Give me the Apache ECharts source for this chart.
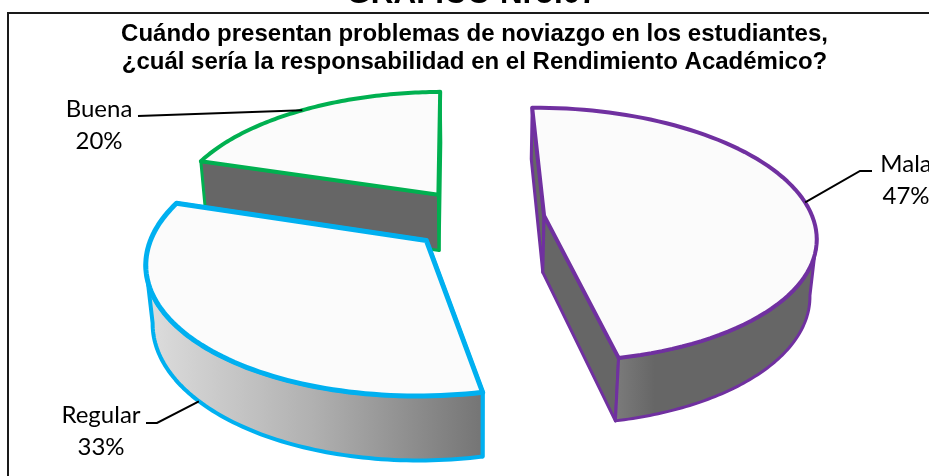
<!DOCTYPE html>
<html style="height: 100%">
<head>
    <meta charset="utf-8">
    <script src="https://cdn.jsdelivr.net/npm/echarts@6/dist/echarts.min.js"></script>
</head>
<body style="height: 100%; margin: 0; background: #fff">
<div id="container" style="width: 929px; height: 476px"></div>
<script type="text/javascript">
    var categories = ['Mala', 'Regular', 'Buena'];
    var percents = [47, 33, 20];
    var drawOrder = [2, 0, 1];
    var heading = 'GRÁFICO Nro.07';
    var chartTitle = 'Cuándo presentan problemas de noviazgo en los estudiantes,\n¿cuál sería la responsabilidad en el Rendimiento Académico?';

    // look of the 3d pie
    var cx = 477.5, cy = 219, rx = 269, ry = 125, depth = 58;
    var tilt = 0.15, sink = 0.02, explode = 0.25, firstAngle = -0.8;
    var sliceStyle = [
        {line: '#7030A0', width: 4, wall: [[0, '#7c7c7c'], [0.2, '#666666'], [1, '#666666']], side: '#666666',
            labelX: 906, labelY: 180, leader: [[872, 171], [860, 171]]},
        {line: '#00B0F0', width: 5, wall: [[0, '#dedede'], [0.5, '#b0b0b0'], [1, '#747474']], side: '#666666',
            labelX: 101, labelY: 431, leader: [[146, 423], [157, 423]]},
        {line: '#00B050', width: 4, wall: [[0, '#666666'], [1, '#666666']], side: '#666666',
            labelX: 99, labelY: 125, leader: [[138, 116]]}
    ];

    function rad(d) { return d * Math.PI / 180; }

    // angles are clockwise from the back of the pie
    var slices = [];
    var total = percents.reduce(function (a, b) { return a + b; }, 0);
    var acc = firstAngle;
    percents.forEach(function (p) {
        var span = p / total * 360;
        slices.push({start: acc, end: acc + span, mid: acc + span / 2});
        acc += span;
    });

    function project(u, v, z) {
        var w = 1 - tilt * v + sink * z;
        return [cx + rx * u / w, cy + (ry * v + depth * z) / w];
    }
    function apex(s) {
        return [explode * Math.sin(rad(s.mid)), -explode * Math.cos(rad(s.mid))];
    }
    function rimPoint(s, a, z) {
        var o = apex(s);
        return project(o[0] + Math.sin(rad(a)), o[1] - Math.cos(rad(a)), z);
    }
    function rim(s, from, to, z) {
        var pts = [];
        var n = 80;
        for (var i = 0; i <= n; i++) {
            pts.push(rimPoint(s, from + (to - from) * i / n, z));
        }
        return pts;
    }
    function face(pts, fill, st, width) {
        return {type: 'polygon', shape: {points: pts},
            style: {fill: fill, stroke: st.line, lineWidth: width, lineJoin: 'round'}};
    }

    function renderSlice(params, api) {
        var idx = api.value(0);
        var s = slices[idx], st = sliceStyle[idx];
        var o = apex(s);
        var top0 = project(o[0], o[1], 0), bot0 = project(o[0], o[1], 1);
        var children = [];

        // the two cut faces
        [s.start, s.end].forEach(function (a) {
            children.push(face([top0, rimPoint(s, a, 0), rimPoint(s, a, 1), bot0], st.side, st, st.width - 1));
        });

        // outer wall, only the part turned to the viewer
        var from = Math.max(s.start, 100), to = Math.min(s.end, 260);
        if (to > from) {
            var upper = rim(s, from, to, 0);
            var lower = rim(s, to, from, 1);
            children.push(face(upper.concat(lower),
                new echarts.graphic.LinearGradient(0, 0, 1, 0, st.wall.map(function (c) {
                    return {offset: c[0], color: c[1]};
                })), st, st.width - 1));
        }

        // top of the slice
        children.push(face([top0].concat(rim(s, s.start, s.end, 0)), '#fbfbfb', st, st.width));

        // leader line and label
        var hit = idx === 1 ? rimPoint(s, s.mid, 1) : rimPoint(s, s.mid, 0);
        children.push({type: 'polyline', shape: {points: st.leader.concat([hit])},
            style: {fill: null, stroke: '#000', lineWidth: 2}});
        children.push({type: 'text', style: {
            x: st.labelX, y: st.labelY, text: categories[idx] + '\n' + percents[idx] + '%',
            font: '24px Lato', lineHeight: 32, fill: '#000', align: 'center', verticalAlign: 'middle'}});
        return {type: 'group', children: children};
    }

    var dom = document.getElementById('container');
    var myChart = echarts.init(dom);
    var option = {
        backgroundColor: '#fff',
        animation: false,
        title: {
            text: chartTitle,
            left: 469.5,
            top: 15,
            textAlign: 'center',
            textStyle: {fontFamily: 'Liberation Sans', fontWeight: 'bold', fontSize: 24, lineHeight: 28, color: '#000'}
        },
        graphic: [
            {type: 'rect', shape: {x: 8, y: 13, width: 940, height: 480},
                style: {fill: null, stroke: '#1a1a1a', lineWidth: 2}},
            {type: 'text', style: {x: 472, y: -6, text: heading, font: 'bold 31.4px Liberation Sans',
                fill: '#000', align: 'center', verticalAlign: 'middle'}}
        ],
        series: [{
            type: 'custom',
            coordinateSystem: 'none',
            silent: true,
            clip: false,
            renderItem: renderSlice,
            data: drawOrder.map(function (i) { return [i, percents[i]]; })
        }]
    };
    myChart.setOption(option);
</script>
</body>
</html>
